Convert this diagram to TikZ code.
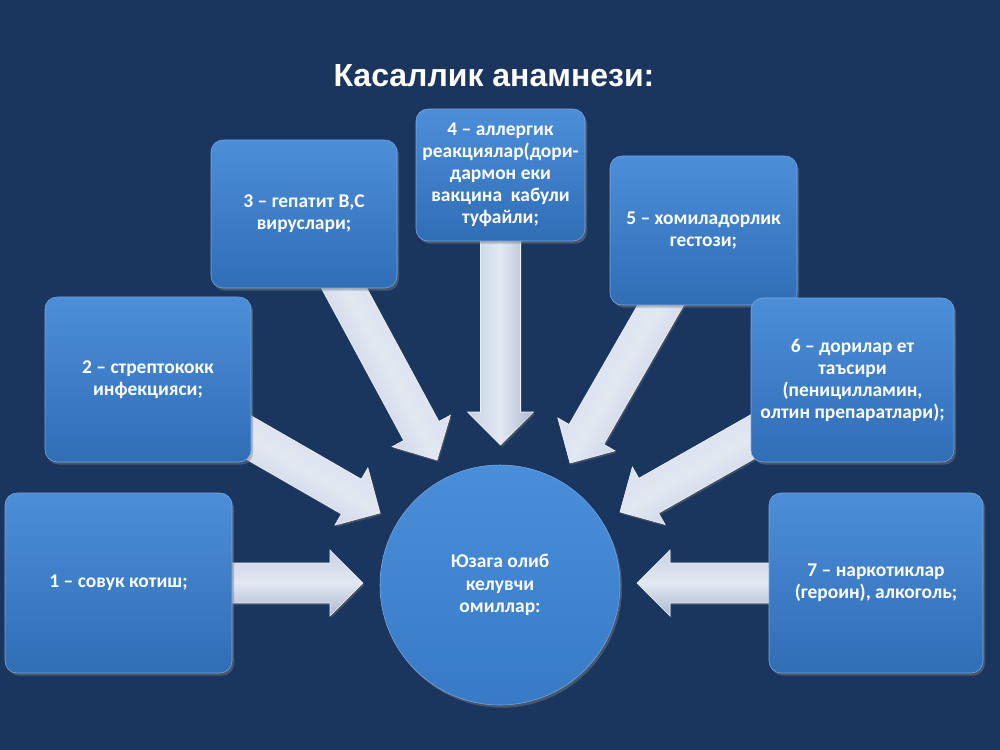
\documentclass[tikz,border=0pt]{standalone}
\usepackage{fontspec}
\setmainfont{Carlito}
\newfontfamily\titlefont{Liberation Sans}
\usetikzlibrary{calc,shadows}
\pgfdeclarelayer{back}
\pgfdeclarelayer{arr}
\pgfsetlayers{back,arr,main}
\definecolor{bgc}{RGB}{27,54,94}
\definecolor{boxtop}{RGB}{76,142,216}
\definecolor{boxbot}{RGB}{48,110,182}
\definecolor{circtop}{RGB}{74,142,218}
\definecolor{circbot}{RGB}{56,122,196}
\definecolor{arrmid}{RGB}{226,232,242}
\definecolor{arrtop}{RGB}{200,210,228}
\definecolor{arrbot}{RGB}{170,184,208}
\newcommand\blockarrow[3][0]{%
  \path coordinate (hb) at ($(#3)!24.75pt!(#2)$);
  \fill[arrowfill, shading angle=#1]
    ($(#2)!15pt!90:(#3)$) -- ($(hb)!15pt!90:(#3)$) -- ($(hb)!24.75pt!90:(#3)$)
    -- (#3) -- ($(hb)!24.75pt!-90:(#3)$) -- ($(hb)!15pt!-90:(#3)$)
    -- ($(#2)!15pt!-90:(#3)$) -- cycle;}
\begin{document}
\begin{tikzpicture}[x=0.75pt,y=-0.75pt,
  box/.style={rounded corners=9pt, top color=boxtop, bottom color=boxbot,
    draw=boxtop!75!white, line width=0.4pt,
    drop shadow={shadow xshift=1.5pt, shadow yshift=-2pt, opacity=0.45},
    text=white, font=\bfseries\fontsize{14.6}{16.5}\selectfont, align=center, inner sep=0pt},
  circ/.style={circle, top color=circtop, bottom color=circbot,
    draw=circtop!75!white, line width=0.4pt,
    drop shadow={shadow xshift=1.5pt, shadow yshift=-2pt, opacity=0.45},
    text=white, font=\bfseries\fontsize{14.6}{17}\selectfont, align=center, inner sep=0pt},
  arrowfill/.style={top color=arrtop, bottom color=arrbot, middle color=arrmid,
    draw=white!70!arrtop, line width=0.5pt,
    drop shadow={shadow xshift=1pt, shadow yshift=-1.5pt, opacity=0.35}},
  ttl/.style={text=white, font=\titlefont\bfseries\fontsize{24}{28}\selectfont}]
\begin{pgfonlayer}{back}
\fill[bgc] (0,0) rectangle (1000,750);
\end{pgfonlayer}
\useasboundingbox (0,0) rectangle (1000,750);

\node[ttl] (title) at (494,76) {Касаллик анамнези:};

\node[box, minimum width=227*0.75pt, minimum height=180*0.75pt] (b1) at (118.5,583) {1 – совук котиш;};
\node[box, minimum width=206*0.75pt, minimum height=165*0.75pt] (b2) at (148,379.5) {2 – стрептококк\\инфекцияси;};
\node[box, minimum width=186*0.75pt, minimum height=148*0.75pt] (b3) at (304,214) {3 – гепатит B,C\\вируслари;};
\node[box, minimum width=169*0.75pt, minimum height=132*0.75pt] (b4) at (500.5,175) {4 – аллергик\\реакциялар(дори-\\дармон еки\\вакцина\ \ кабули\\туфайли;};
\node[box, minimum width=187*0.75pt, minimum height=149*0.75pt] (b5) at (703.5,230.5) {5 – хомиладорлик\\гестози;};
\node[box, minimum width=203*0.75pt, minimum height=164*0.75pt] (b6) at (852.5,380) {6 – дорилар ет\\таъсири\\(пеницилламин,\\олтин препаратлари);};
\node[box, minimum width=214*0.75pt, minimum height=180*0.75pt] (b7) at (876,583) {7 – наркотиклар\\(героин), алкоголь;};
\node[circ, minimum size=240*0.75pt] (c) at (500,585) {Юзага олиб\\келувчи\\омиллар:};

\coordinate (t1) at (363,583);
\coordinate (t2) at (380,513);
\coordinate (t3) at (437,460);
\coordinate (t4) at (500.5,445);
\coordinate (t5) at (570,463);
\coordinate (t6) at (620,512);
\coordinate (t7) at (637,583);

\begin{pgfonlayer}{arr}
\blockarrow[0]{b1.center}{t1}
\blockarrow[-30]{b2.center}{t2}
\blockarrow[-62]{b3.center}{t3}
\blockarrow[90]{b4.center}{t4}
\blockarrow[60]{b5.center}{t5}
\blockarrow[30]{b6.center}{t6}
\blockarrow[0]{b7.center}{t7}
\end{pgfonlayer}
\end{tikzpicture}
\end{document}
